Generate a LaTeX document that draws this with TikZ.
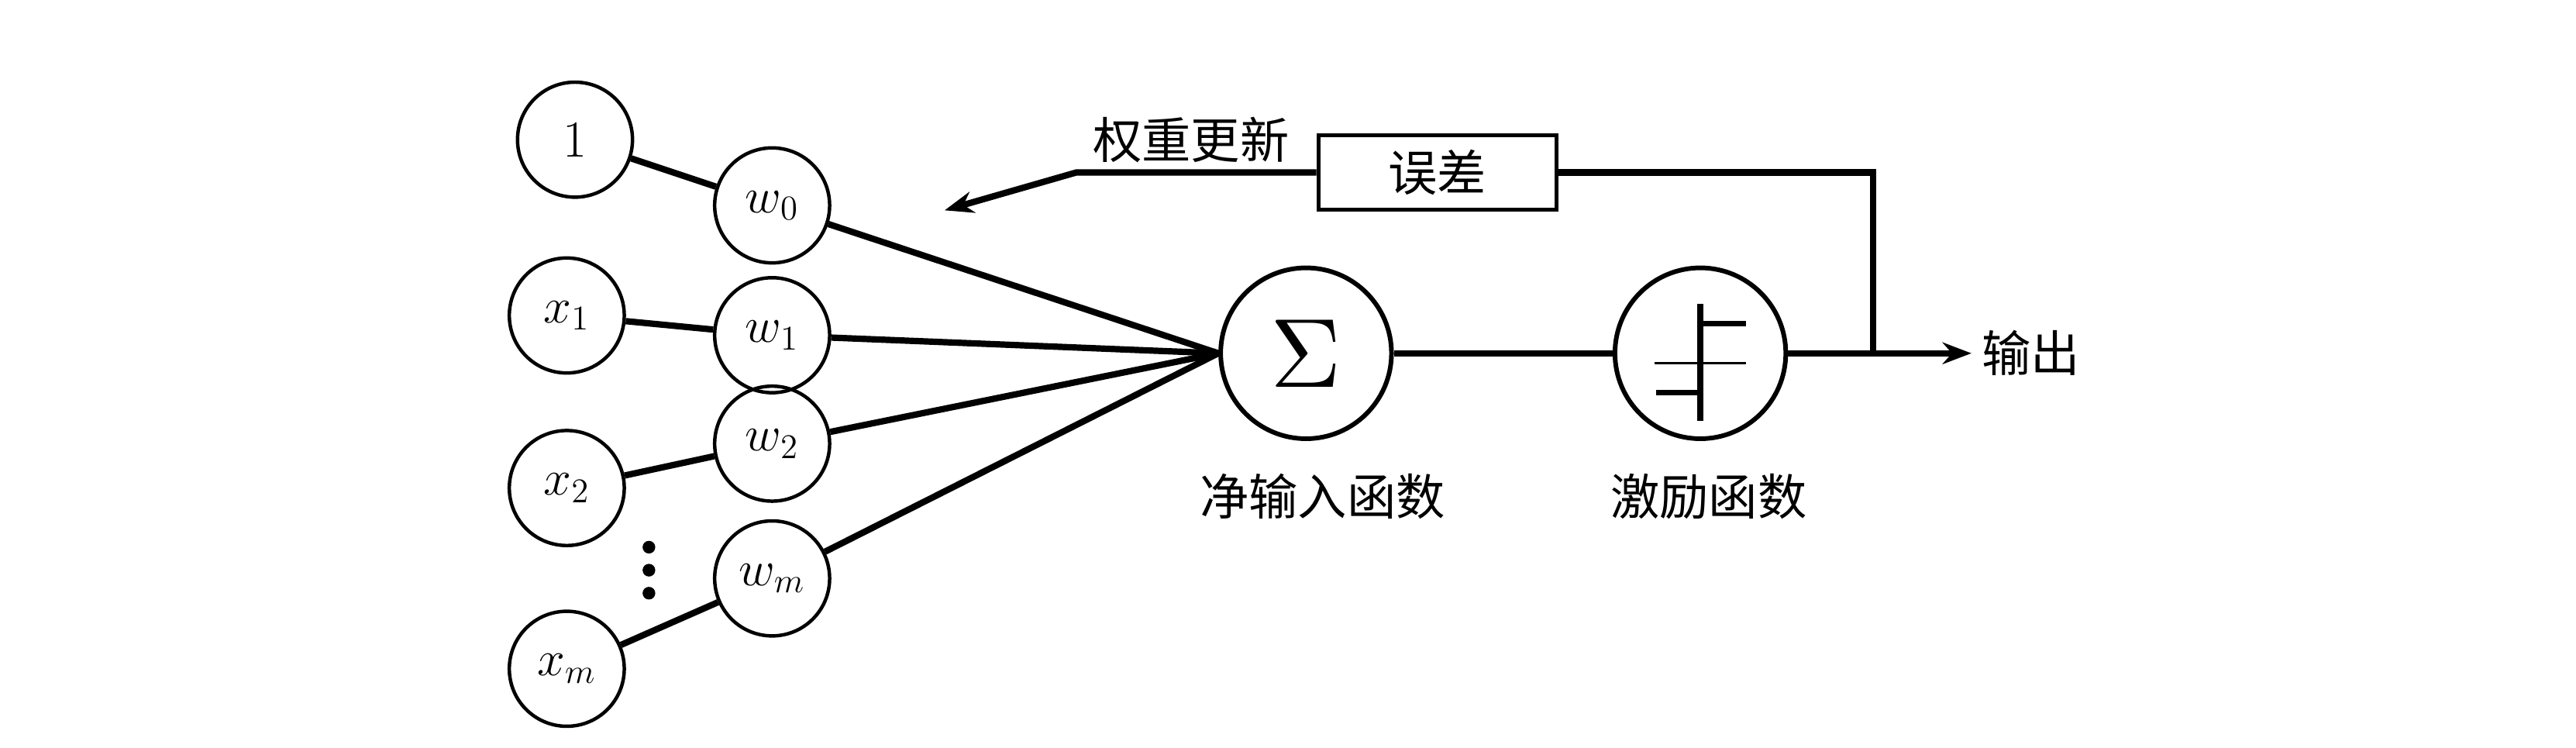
\documentclass[tikz,border=0pt]{standalone}
\usepackage{fontspec}
\usepackage{graphicx}
\newfontfamily\cjk{Noto Sans CJK SC}
\usetikzlibrary{calc}
\usetikzlibrary{arrows.meta}

\begin{document}
\begin{tikzpicture}[x=0.02cm, y=-0.02cm,
	unit/.style={draw, line width=1.2pt, circle, minimum size=1.4cm, inner sep=0pt, font=\fontsize{18}{20}\selectfont},
	bigunit/.style={draw, line width=1.6pt, circle, minimum size=2.08cm, inner sep=0pt},
	wire/.style={line width=2.2pt},
	label/.style={font=\cjk\fontsize{17}{20}\selectfont}]
	\useasboundingbox (0,0) rectangle (1568,455);

	% inputs and weights
	\node[unit] (one)	at (350,85)	{1};
	\node[unit] (w0)	at (470,125)	{$w_0$};
	\node[unit] (x1)	at (345,192)	{$x_1$};
	\node[unit] (w1)	at (470,204)	{$w_1$};
	\node[unit] (x2)	at (345,297)	{$x_2$};
	\node[unit] (w2)	at (470,270)	{$w_2$};
	\node[unit] (wm)	at (470,352)	{$w_m$};
	\node[unit] (xm)	at (345,407)	{$x_m$};
	\foreach \y in {333,347,361}
		\fill (395,\y) circle (2.2pt);

	% net input and activation
	\node[bigunit] (sum)	at (795,215)	{\scalebox{3.4}{$\Sigma$}};
	\node[bigunit] (act)	at (1035,215)	{};
	\node[label] (sumlbl)	at (805,302)	{净输入函数};
	\node[label] (actlbl)	at (1040,302)	{激励函数};

	% error feedback
	\node[draw, line width=1.4pt, minimum width=2.9cm, minimum height=0.9cm, label] (err) at (875,105) {误差};
	\node[label] (update)	at (725,85)	{权重更新};
	\node[label, anchor=west] (out) at (1200,215) {输出};
	\coordinate (split)	at (1140,215);
	\coordinate (bend)	at (655,105);
	\coordinate (upd)	at (575,128);

	\draw[wire] (one) -- (w0);
	\draw[wire] (x1) -- (w1);
	\draw[wire] (x2) -- (w2);
	\draw[wire] (xm) -- (wm);
	\foreach \w in {w0,w1,w2,wm}
		\draw[wire] (\w) -- (sum.west);
	\draw[wire] (sum) -- (act);
	\draw[wire, -{Stealth[length=10pt]}] (act) -- (out);
	\draw[wire] (split) |- (err);
	\draw[wire, -{Stealth[length=10pt]}] (err) -- (bend) -- (upd);

	% step symbol
	\draw[line width=2pt] ($(act)+(0,-30)$) -- ($(act)+(0,41)$);
	\draw[line width=2pt] ($(act)+(0,-18)$) -- ($(act)+(28,-18)$);
	\draw[line width=1pt] ($(act)+(-28,6)$) -- ($(act)+(28,6)$);
	\draw[line width=2pt] ($(act)+(-27,24)$) -- ($(act)+(0,24)$);
\end{tikzpicture}
\end{document}
